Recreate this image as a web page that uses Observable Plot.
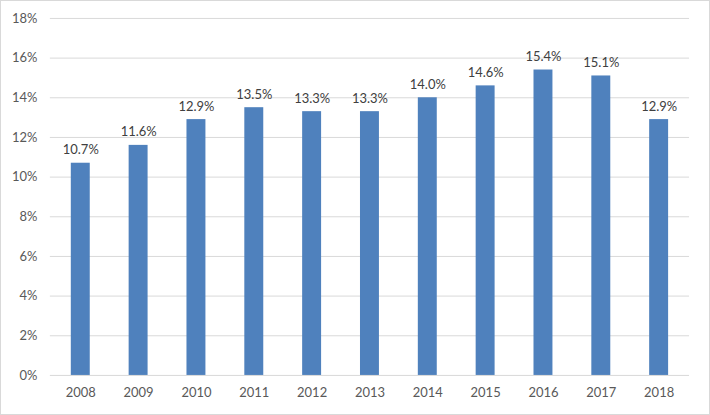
<!DOCTYPE html>
<html>
<head>
<meta charset="utf-8">
<script src="https://cdn.jsdelivr.net/npm/d3@7"></script>
<script src="https://cdn.jsdelivr.net/npm/@observablehq/plot@0.6"></script>
<style>
  html, body { margin: 0; padding: 0; background: #fff; }
  #chart { width: 708px; height: 413px; border: 1px solid #d9d9d9; position: relative; overflow: hidden; }
  #chart svg { position: absolute; left: -1px; top: -1px; }
</style>
</head>
<body>
<div id="chart"></div>
<script>
const years = ["2008","2009","2010","2011","2012","2013","2014","2015","2016","2017","2018"];
const rates = [10.7, 11.6, 12.9, 13.5, 13.3, 13.3, 14.0, 14.6, 15.4, 15.1, 12.9];
const yTicks = [0, 2, 4, 6, 8, 10, 12, 14, 16, 18];

const data = years.map((y, i) => ({year: y, value: rates[i]}));

const chart = Plot.plot({
  width: 710,
  height: 415,
  marginLeft: 50,
  marginRight: 19,
  marginTop: 18,
  marginBottom: 39,
  style: {fontFamily: "Lato, 'Open Sans', sans-serif", fontSize: "13px", color: "#595959", background: "transparent"},
  x: {domain: years, paddingInner: 0.68, paddingOuter: 0.34, label: null},
  y: {domain: [0, 18], label: null},
  marks: [
    Plot.gridY(yTicks, {stroke: "#d9d9d9", strokeOpacity: 1, strokeWidth: 1}),
    Plot.barY(data, {x: "year", y: "value", fill: "#4f81bd"}),
    Plot.text(data, {x: "year", y: "value", text: d => d.value.toFixed(1) + "%", lineAnchor: "bottom", dy: -9, fill: "#404040", fontSize: 13}),
    Plot.axisY(yTicks, {tickSize: 0, tickPadding: 13, tickFormat: d => d + "%", fill: "#595959", fontSize: 13}),
    Plot.axisX({tickSize: 0, tickPadding: 12, fill: "#595959", fontSize: 13})
  ]
});
document.getElementById("chart").appendChild(chart);
</script>
</body>
</html>
